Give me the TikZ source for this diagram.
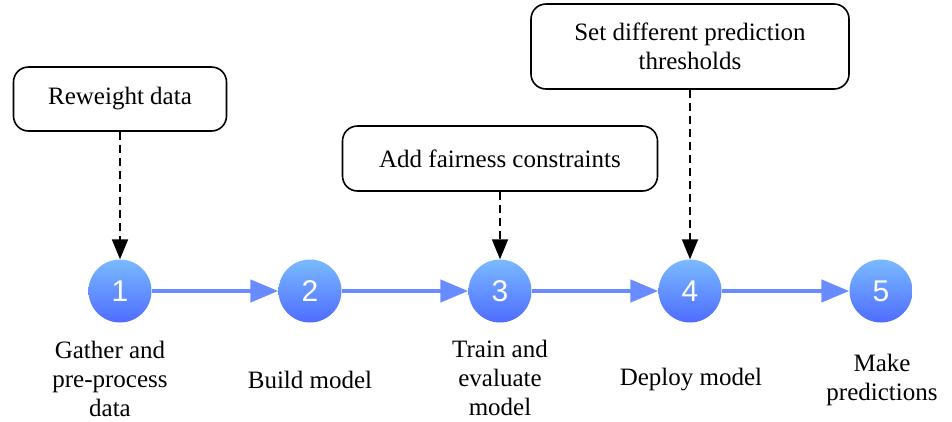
\documentclass[tikz,border=0pt]{standalone}
\usepackage{fontspec}
\setmainfont{Liberation Serif}
\newfontfamily\labelfont{Liberation Serif}
\newfontfamily\numfont{Liberation Sans}
\usetikzlibrary{positioning, arrows.meta}

\definecolor{steptop}{RGB}{122,186,255}
\definecolor{stepbottom}{RGB}{78,108,255}
\definecolor{flowblue}{RGB}{104,140,255}

\begin{document}
\begin{tikzpicture}[
    x=1pt, y=-1pt,
    stepnode/.style={circle, minimum size=63pt, inner sep=0pt, top color=steptop,
                     bottom color=stepbottom, draw=none, text=white,
                     font=\numfont\fontsize{30}{30}\selectfont},
    actionbox/.style={rectangle, rounded corners=15pt, draw=black, line width=1.6pt,
                      fill=white, align=center, font=\labelfont\fontsize{25}{29}\selectfont},
    caption/.style={align=center, font=\labelfont\fontsize{25}{29}\selectfont},
    flow/.style={-{Triangle[length=28pt, width=22pt]}, line width=4.5pt, draw=flowblue},
    hint/.style={-{Triangle[length=20pt, width=16pt]}, line width=1.8pt,
                 dash pattern=on 8pt off 5pt}
]
    \useasboundingbox (0,0) rectangle (952,421);

    % Steps
    \node[stepnode] (s1) at (120, 291) {1};
    \node[stepnode] (s2) at (310, 291) {2};
    \node[stepnode] (s3) at (500, 291) {3};
    \node[stepnode] (s4) at (690, 291) {4};
    \node[stepnode] (s5) at (881, 291) {5};

    % Flow between steps
    \draw[flow] (s1) -- (s2);
    \draw[flow] (s2) -- (s3);
    \draw[flow] (s3) -- (s4);
    \draw[flow] (s4) -- (s5);

    % Step captions
    \node[caption] (c1) at (110, 379) {Gather and\\pre-process\\data};
    \node[caption] (c2) at (310, 380) {Build model};
    \node[caption] (c3) at (500, 378) {Train and\\evaluate\\model};
    \node[caption] (c4) at (691, 380) {Deploy model};
    \node[caption] (c5) at (882, 380) {Make\\predictions};

    % Interventions
    \node[actionbox, minimum width=213pt, minimum height=64pt] (reweight) at (120, 99) {Reweight data};
    \node[actionbox, minimum width=315pt, minimum height=65pt] (constraints) at (500, 158.5) {Add fairness constraints};
    \node[actionbox, minimum width=318pt, minimum height=85pt] (thresholds) at (690, 46.5) {Set different prediction\\thresholds};

    \draw[hint] (reweight) -- (s1);
    \draw[hint] (constraints) -- (s3);
    \draw[hint] (thresholds) -- (s4);

\end{tikzpicture}
\end{document}
